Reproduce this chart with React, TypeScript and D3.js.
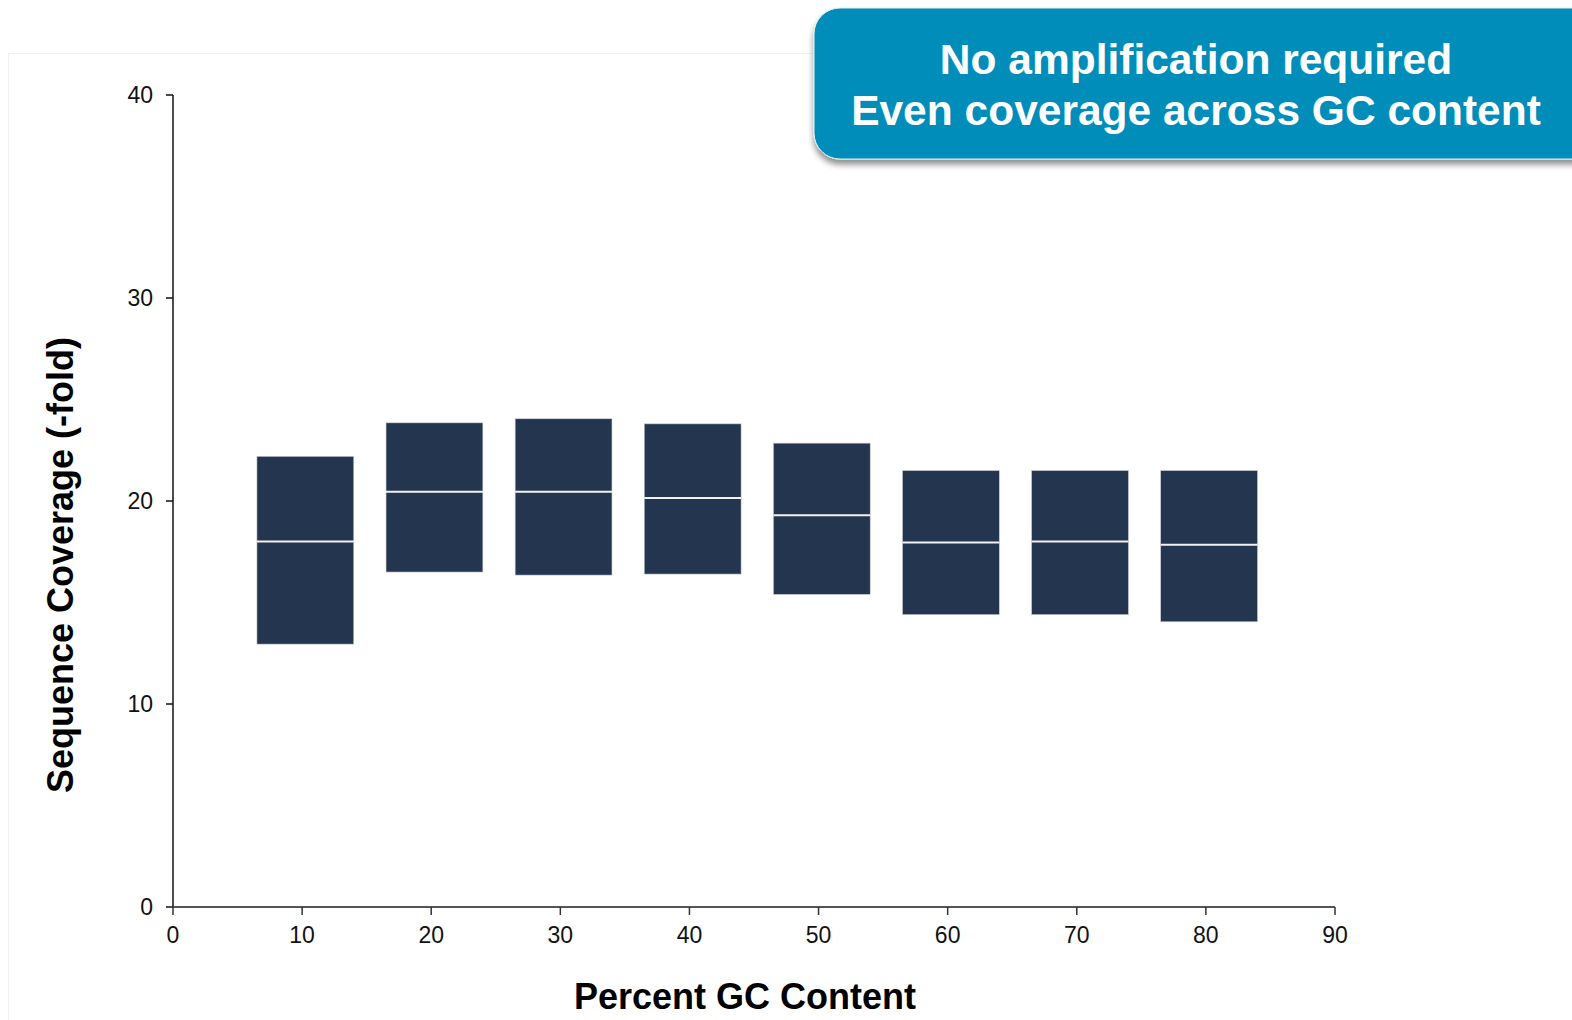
import React from "react";
import * as d3 from "d3";

const gcContent = [10, 20, 30, 40, 50, 60, 70, 80];
const upper = [22.2, 23.85, 24.05, 23.8, 22.85, 21.5, 21.5, 21.5];
const median = [18.0, 20.45, 20.45, 20.15, 19.3, 17.95, 18.0, 17.85];
const lower = [12.95, 16.5, 16.35, 16.4, 15.4, 14.4, 14.4, 14.05];
const xTicks = [0, 10, 20, 30, 40, 50, 60, 70, 80, 90];
const yTicks = [0, 10, 20, 30, 40];
const calloutLines = ["No amplification required", "Even coverage across GC content"];

export default function App() {
  const W = 1572, H = 1020;
  const x = d3.scaleLinear().domain([0, 90]).range([173, 1335]);
  const y = d3.scaleLinear().domain([0, 40]).range([907, 95]);
  const boxLeft = -3.5, boxRight = 4.0;
  const font = "'Liberation Sans', Arial, Helvetica, sans-serif";
  const navy = "#243550";
  return (
    <svg width={W} height={H} style={{ position: "absolute", left: 0, top: 0, background: "#fff" }}>
      <defs>
        <filter id="sh" x="-10%" y="-20%" width="130%" height="160%">
          <feGaussianBlur in="SourceAlpha" stdDeviation="3" />
          <feOffset dx="0" dy="5" result="b" />
          <feComponentTransfer><feFuncA type="linear" slope="0.45" /></feComponentTransfer>
          <feMerge><feMergeNode /><feMergeNode in="SourceGraphic" /></feMerge>
        </filter>
      </defs>
      <rect x={8.5} y={53.5} width={W} height={H} fill="none" stroke="#f2f2f2" strokeWidth={1} />
      {gcContent.map((g, i) => (
        <g key={g}>
          <rect x={x(g + boxLeft)} y={y(upper[i])} width={x(g + boxRight) - x(g + boxLeft)}
            height={y(lower[i]) - y(upper[i])} fill={navy} stroke="#c8ccd4" strokeWidth={0.6} />
          <line x1={x(g + boxLeft)} x2={x(g + boxRight)} y1={y(median[i])} y2={y(median[i])}
            stroke="#f2f2f2" strokeWidth={2} />
        </g>
      ))}
      <line x1={x(0)} x2={x(0)} y1={y(40)} y2={y(0)} stroke="#111" strokeWidth={1.5} />
      {yTicks.map(t => (
        <g key={t}>
          <line x1={x(0) - 7} x2={x(0)} y1={y(t)} y2={y(t)} stroke="#111" strokeWidth={1.5} />
          <text x={x(0) - 20} y={y(t)} dy="0.35em" textAnchor="end" fontFamily={font} fontSize={23} fill="#111">{t}</text>
        </g>
      ))}
      <line x1={x(0)} x2={x(90)} y1={y(0)} y2={y(0)} stroke="#555" strokeWidth={2.2} />
      {xTicks.map(t => (
        <g key={t}>
          <line x1={x(t)} x2={x(t)} y1={y(0)} y2={y(0) + 8} stroke="#333" strokeWidth={1.5} />
          <text x={x(t)} y={y(0) + 36} textAnchor="middle" fontFamily={font} fontSize={23} fill="#111">{t}</text>
        </g>
      ))}
      <text x={745} y={1009} textAnchor="middle" fontFamily={font} fontSize={36} fontWeight="bold" fill="#000">Percent GC Content</text>
      <text transform="translate(73,565) rotate(-90)" textAnchor="middle" fontFamily={font} fontSize={36} fontWeight="bold" fill="#000">Sequence Coverage (-fold)</text>
      <g filter="url(#sh)">
        <rect x={814} y={8} width={800} height={151} rx={26} ry={26} fill="#008db9" stroke="#e6eef2" strokeWidth={1} />
      </g>
      {calloutLines.map((l, i) => (
        <text key={i} x={1196} y={74 + i * 51} textAnchor="middle" fontFamily={font} fontSize={42.5} fontWeight="bold" fill="#fff">{l}</text>
      ))}
    </svg>
  );
}
